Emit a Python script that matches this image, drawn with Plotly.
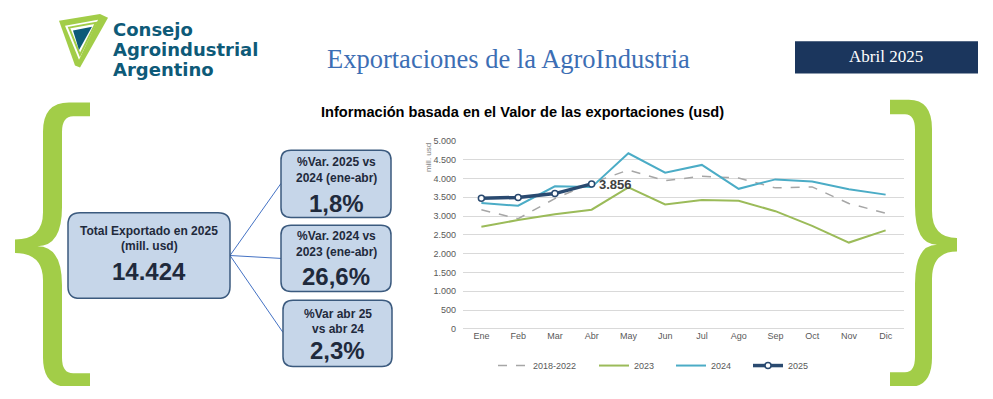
import plotly.graph_objects as go

# ---------------- data ----------------
months = ["Ene", "Feb", "Mar", "Abr", "May", "Jun", "Jul", "Ago", "Sep", "Oct", "Nov", "Dic"]
avg_2018_2022 = [3165, 2930, 3465, 3880, 4225, 3940, 4060, 4010, 3750, 3775, 3335, 3075]
exp_2023 = [2715, 2895, 3050, 3170, 3765, 3310, 3430, 3405, 3130, 2740, 2295, 2620]
exp_2024 = [3345, 3275, 3790, 3770, 4670, 4155, 4360, 3725, 3975, 3920, 3715, 3570]
exp_2025 = [3475, 3495, 3598, 3856]
series_names = ["2018-2022", "2023", "2024", "2025"]

ytick_vals = [0, 500, 1000, 1500, 2000, 2500, 3000, 3500, 4000, 4500, 5000]

kpi_total_title = ["Total Exportado en 2025", "(mill. usd)"]
kpi_total_value = "14.424"
kpi_titles = [["%Var. 2025 vs", "2024 (ene-abr)"],
              ["%Var. 2024 vs", "2023 (ene-abr)"],
              ["%Var abr 25", "vs abr 24"]]
kpi_values = ["1,8%", "26,6%", "2,3%"]

# page is 993x399; the html body keeps an 8px margin on every side,
# so the figure is 977x383 and page pixel p maps to figure pixel p-8
OFF = 8
PW, PH = 993, 399
W, H = PW - 2 * OFF, PH - 2 * OFF
XR, YR = OFF + W, OFF + H


def fx(p):
    return (p - OFF) / W


def fy(p):
    return 1 - (p - OFF) / H


GREEN = "#a2cd48"
NAVY_TXT = "#1f2a3c"
BOX_FILL = "#c6d6e9"
BOX_LINE = "#3b5a7e"

fig = go.Figure()

line_styles = [
    dict(color="#a6a6a6", width=1.5, dash="dash"),
    dict(color="#9bbb59", width=2),
    dict(color="#4bacc6", width=2),
]
legend_ids = ["legend", "legend2", "legend3", "legend4"]
for name, vals, ls, lg in zip(series_names[:3], [avg_2018_2022, exp_2023, exp_2024], line_styles, legend_ids):
    fig.add_trace(go.Scatter(x=months[:len(vals)], y=vals, mode="lines", name=name, legend=lg,
                             line=ls, xaxis="x", yaxis="y", hoverinfo="skip"))
fig.add_trace(go.Scatter(x=months[:len(exp_2025)], y=exp_2025, mode="lines+markers", name=series_names[3],
                         legend=legend_ids[3],
                         line=dict(color="#2a4a70", width=3.5),
                         marker=dict(symbol="circle", size=6, color="white",
                                     line=dict(color="#2a4a70", width=1.5)),
                         xaxis="x", yaxis="y", hoverinfo="skip"))
# dummy trace for the pixel overlay axes
fig.add_trace(go.Scatter(x=[None], y=[None], xaxis="x2", yaxis="y2", showlegend=False, hoverinfo="skip"))

shapes = []
annotations = []


def px(x, y, text, size, color, family="Liberation Sans", bold=False, xanchor="center", angle=0,
       yanchor="middle"):
    annotations.append(dict(x=x, y=y, xref="x2", yref="y2", text=("<b>%s</b>" % text) if bold else text,
                            showarrow=False, xanchor=xanchor, yanchor=yanchor, textangle=angle,
                            font=dict(size=size, color=color, family=family)))


def rrect(x0, y0, x1, y1, r):
    return (f"M {x0+r},{y0} L {x1-r},{y0} Q {x1},{y0} {x1},{y0+r} L {x1},{y1-r} Q {x1},{y1} {x1-r},{y1} "
            f"L {x0+r},{y1} Q {x0},{y1} {x0},{y1-r} L {x0},{y0+r} Q {x0},{y0} {x0+r},{y0} Z")


def brace(arm, so, si, tip, top, bot, mid, th):
    c = si + (arm - si) * 0.25
    c2 = si + (arm - si) * 0.4
    notch = so + (tip - so) * 0.2
    return (f"M {arm},{top} L {c},{top} Q {so},{top} {so},{top+30} L {so},{mid-35} "
            f"Q {so},{mid-7} {tip},{mid-7} L {tip},{mid+7} Q {so},{mid+7} {so},{mid+35} "
            f"L {so},{bot-30} Q {so},{bot} {c},{bot} L {arm},{bot} L {arm},{bot-th} L {c2},{bot-th} "
            f"Q {si},{bot-th} {si},{bot-th-16} L {si},{mid+40} Q {si},{mid} {notch},{mid} "
            f"Q {si},{mid} {si},{mid-40} L {si},{top+th+16} Q {si},{top+th} {c2},{top+th} L {arm},{top+th} Z")


def add_path(path, fill=None, line_color=None, lw=0):
    shapes.append(dict(type="path", path=path, xref="x2", yref="y2", fillcolor=fill if fill else "rgba(0,0,0,0)",
                       line=dict(color=line_color if line_color else "rgba(0,0,0,0)", width=lw), layer="above"))


# braces
add_path(brace(90, 43, 62, 15, 100, 392, 247.5, 14), fill=GREEN)
add_path(brace(890, 932, 915, 957, 97, 392, 246, 15), fill=GREEN)

# logo icon
add_path("M 59,16 L 100,9 L 108,13 L 80,64 L 75,62 Z", fill=GREEN)
add_path("M 65,21 L 98,15 L 79,56 Z", fill="white")
add_path("M 69,23 L 96,18 L 80,51 Z", fill="white", line_color=GREEN, lw=2)
add_path("M 73,26 L 92,22 L 79,46 Z", fill="#0d5a78")
logo_lines = ["Consejo", "Agroindustrial", "Argentino"]
for i, t in enumerate(logo_lines):
    px(111, 25 + 20.5 * i, t, 18, "#0e5a78", family="DejaVu Sans", bold=True, xanchor="left")

# header
px(508, 55, "Exportaciones de la AgroIndustria", 26.5, "#3c6eb4", family="Liberation Serif")
shapes.append(dict(type="rect", x0=795, x1=978, y0=37, y1=70, xref="x2", yref="y2",
                   fillcolor="#1b365d", line=dict(width=0), layer="above"))
px(886, 53, "Abril 2025", 17, "white", family="Liberation Serif")

# subtitle
px(522, 110, "Información basada en el Valor de las exportaciones (usd)", 14.6, "black", bold=True)

# KPI connectors
for (xe, ye) in [(281, 183), (281, 260), (283, 336)]:
    shapes.append(dict(type="line", x0=230, y0=257, x1=xe, y1=ye, xref="x2", yref="y2",
                       line=dict(color="#4472c4", width=1), layer="above"))

# KPI boxes
add_path(rrect(68, 213, 230, 301, 12), fill=BOX_FILL, line_color=BOX_LINE, lw=1.5)
px(149, 232, kpi_total_title[0], 12, NAVY_TXT, bold=True)
px(149, 247, kpi_total_title[1], 12, NAVY_TXT, bold=True)
px(149, 273, kpi_total_value, 24, NAVY_TXT, bold=True)

boxes = [(281, 149, 391, 218, 161, 177, 204),
         (281, 226, 391, 294, 237, 253, 279),
         (283, 303, 392, 371, 317, 332, 355)]
for (x0, y0, x1, y1, t1, t2, tv), title, val in zip(boxes, kpi_titles, kpi_values):
    add_path(rrect(x0, y0, x1, y1, 10), fill=BOX_FILL, line_color=BOX_LINE, lw=1.5)
    cx = (x0 + x1) / 2
    px(cx, t1, title[0], 12, NAVY_TXT, bold=True)
    px(cx, t2, title[1], 12, NAVY_TXT, bold=True)
    px(cx, tv, val, 24, NAVY_TXT, bold=True)

# chart annotations
px(428, 157, "mill. usd", 8, "#7f7f7f", angle=-90)
last_val = exp_2025[-1]
annotations.append(dict(x=months[len(exp_2025) - 1], y=last_val, xref="x", yref="y",
                        text="<b>%s</b>" % f"{last_val:,}".replace(",", "."), showarrow=False,
                        xanchor="left", yanchor="middle", xshift=5, yshift=-1,
                        font=dict(size=13, color="#404040", family="Liberation Sans")))

legend_text_x = [535, 636, 713, 790]
legend_layout = {}
for lg, tx in zip(legend_ids, legend_text_x):
    legend_layout[lg] = dict(orientation="h", x=fx(tx - 42), xanchor="left", y=fy(370), yanchor="middle",
                             font=dict(size=9, color="#595959"), bgcolor="rgba(0,0,0,0)", itemwidth=30)

fig.update_layout(
    width=W, height=H, margin=dict(l=0, r=0, t=0, b=0),
    paper_bgcolor="white", plot_bgcolor="rgba(0,0,0,0)",
    separators=",.",
    font=dict(family="Liberation Sans", size=9, color="#595959"),
    xaxis=dict(domain=[fx(463), fx(904)], type="category", categoryorder="array", categoryarray=months,
               range=[-0.5, 11.5], showgrid=False, zeroline=False, showline=False, ticks="",
               tickfont=dict(size=9, color="#595959"), anchor="y", fixedrange=True),
    yaxis=dict(domain=[fy(332.3), fy(139.3)], range=[0, 5000], tickvals=ytick_vals,
               tickformat=",d", showgrid=True, gridcolor="#d9d9d9", gridwidth=1,
               zeroline=True, zerolinecolor="#d9d9d9", zerolinewidth=1, showline=False, ticks="",
               ticklabelstandoff=6, tickfont=dict(size=9, color="#595959"), anchor="x", fixedrange=True),
    xaxis2=dict(domain=[0, 1], range=[OFF, XR], visible=False, anchor="y2", fixedrange=True),
    yaxis2=dict(domain=[0, 1], range=[YR, OFF], visible=False, anchor="x2", fixedrange=True),
    shapes=shapes, annotations=annotations, showlegend=True,
    **legend_layout,
)

fig.write_html("out.html")
